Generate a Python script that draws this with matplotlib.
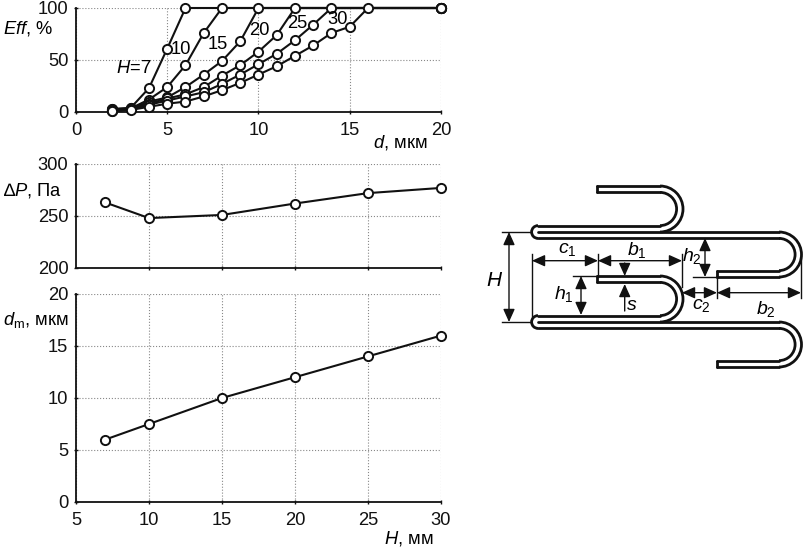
import matplotlib
matplotlib.use('Agg')
import matplotlib.pyplot as plt
from matplotlib.patches import Arc

plt.rcParams['font.family'] = ['Liberation Sans', 'DejaVu Sans']
plt.rcParams['mathtext.fontset'] = 'custom'
plt.rcParams['mathtext.it'] = 'Liberation Sans:italic'
plt.rcParams['mathtext.rm'] = 'Liberation Sans'

# Efficiency curves: Eff (%) against d (um), one series per H
d_7 = [2, 3, 4, 5, 6, 20]
eff_7 = [3, 4, 23, 61, 100, 100]
d_10 = [2, 3, 4, 5, 6, 7, 8, 20]
eff_10 = [2.5, 3.5, 12, 24, 45, 76, 100, 100]
d_15 = [2, 3, 4, 5, 6, 7, 8, 9, 10, 20]
eff_15 = [2, 3, 10, 14, 24, 36, 49, 68, 100, 100]
d_20 = [2, 3, 4, 5, 6, 7, 8, 9, 10, 11, 12, 20]
eff_20 = [1.5, 3, 8, 13, 17, 24, 35, 45, 58, 74, 100, 100]
d_25 = [2, 3, 4, 5, 6, 7, 8, 9, 10, 11, 12, 13, 14, 20]
eff_25 = [1, 2.5, 7, 11, 15, 19, 27, 36, 46, 56, 69, 84, 100, 100]
d_30 = [2, 3, 4, 5, 6, 7, 8, 9, 10, 11, 12, 13, 14, 15, 16, 20]
eff_30 = [0.5, 2, 5, 8, 10, 15, 21, 28, 36, 44, 54, 64, 76, 82, 100, 100]
eff_series = [(d_7, eff_7), (d_10, eff_10), (d_15, eff_15),
              (d_20, eff_20), (d_25, eff_25), (d_30, eff_30)]

H_mm = [7, 10, 15, 20, 25, 30]
dP_pa = [263, 248, 251, 262, 272, 277]
dm_um = [6, 7.5, 10, 12, 14, 16]

W, HT = 804, 550
FS = 13.2
fig = plt.figure(figsize=(W / 100, HT / 100), dpi=100)


def make_axes(top, bottom, left=76, right=441):
    return fig.add_axes([left / W, 1 - bottom / HT, (right - left) / W, (bottom - top) / HT])


def style(ax):
    for s in ('top', 'right'):
        ax.spines[s].set_visible(False)
    for s in ('left', 'bottom'):
        ax.spines[s].set_linewidth(1.3)
        ax.spines[s].set_color('#111111')
    ax.grid(True, ls=':', lw=0.8, color='#888888')
    ax.set_axisbelow(True)
    ax.tick_params(length=3, width=1.0, direction='inout', labelsize=FS, pad=4, colors='#111111')
    ax.tick_params(axis='x', pad=5.5)


def plot_line(ax, x, y):
    ax.plot(x, y, '-o', color='#111111', lw=1.5, ms=6.6, mfc='white', mec='#111111',
            mew=1.4, clip_on=False, zorder=3)


def fig_text(px, py, txt, ha='left', fs=FS):
    fig.text(px / W, 1 - py / HT, txt, fontsize=fs, ha=ha, va='center')


ax1 = make_axes(8, 112)
style(ax1)
for x, y in eff_series:
    plot_line(ax1, x, y)
ax1.set_xlim(0, 20)
ax1.set_ylim(0, 100)
ax1.set_xticks([0, 5, 10, 15, 20])
ax1.set_yticks([0, 50, 100])
curve_labels = [('$\\mathit{H}$=7', 2.2, 42), ('10', 5.2, 60.5), ('15', 7.2, 64.5),
                ('20', 9.5, 78), ('25', 11.55, 85.5), ('30', 13.75, 88.5)]
for txt, x, y in curve_labels:
    ax1.text(x, y, txt, fontsize=FS, ha='left', va='center', zorder=5)

ax2 = make_axes(164, 268)
style(ax2)
plot_line(ax2, H_mm, dP_pa)
ax2.set_xlim(5, 30)
ax2.set_ylim(200, 300)
ax2.set_xticks([10, 15, 20, 25, 30])
ax2.set_yticks([200, 250, 300])
ax2.tick_params(labelbottom=False)

ax3 = make_axes(294, 502)
style(ax3)
plot_line(ax3, H_mm, dm_um)
ax3.set_xlim(5, 30)
ax3.set_ylim(0, 20)
ax3.set_xticks([5, 10, 15, 20, 25, 30])
ax3.set_yticks([0, 5, 10, 15, 20])

fig_text(3, 29, r'$\mathit{Eff}$, %')
fig_text(3, 190, '∆$\\mathit{P}$, Па')
fig_text(3, 320, r'$\mathit{d}_{\mathrm{m}}$, мкм')
fig_text(373, 143, r'$\mathit{d}$, мкм')
fig_text(384, 539, r'$\mathit{H}$, мм')

# Schematic, in figure pixels
sk = fig.add_axes([0, 0, 1, 1], facecolor='none')
sk.set_xlim(0, W)
sk.set_ylim(HT, 0)
sk.axis('off')
INK = '#111111'
TUBE = dict(color=INK, lw=2.0, solid_capstyle='round')
THIN = dict(color=INK, lw=1.0)
GAP = 6.4


def bend(x_c, y_top, y_bot):
    r_out = (y_bot - y_top) / 2
    r_in = r_out - GAP
    yc = (y_top + y_bot) / 2
    sk.add_patch(Arc((x_c, yc), 2 * r_out, 2 * r_out, theta1=-90, theta2=90, color=INK, lw=2.0))
    sk.add_patch(Arc((x_c, yc), 2 * r_in, 2 * r_in, theta1=-90, theta2=90, color=INK, lw=2.0))


def free_end(x_end, x_c, y_outer, y_inner):
    sk.plot([x_end, x_c], [y_outer, y_outer], **TUBE)
    sk.plot([x_end, x_c], [y_inner, y_inner], **TUBE)
    sk.plot([x_end, x_end], [y_outer, y_inner], **TUBE)


def nose(y_mid, x_a, x_b):
    sk.plot([538, x_a], [y_mid - GAP, y_mid - GAP], **TUBE)
    sk.plot([538, x_b], [y_mid, y_mid], **TUBE)
    sk.plot([538, x_b], [y_mid + GAP, y_mid + GAP], **TUBE)
    sk.add_patch(Arc((538, y_mid), 2 * GAP, 2 * GAP, theta1=90, theta2=270, color=INK, lw=2.0))


for dy in (0, 90):
    free_end(597, 660, 186 + dy, 186 + GAP + dy)
    bend(660, 186 + dy, 232 + dy)
    nose(232 + dy, 660, 779)
    bend(779, 232 + dy, 277 + dy)
    free_end(717, 779, 277 + dy, 277 - GAP + dy)

HEAD = dict(color=INK, lw=1.0, mutation_scale=13, shrinkA=0, shrinkB=0)


def dim(x0, y0, x1, y1):
    sk.annotate('', xy=(x1, y1), xytext=(x0, y0),
                arrowprops=dict(arrowstyle='<|-|>,head_length=0.6,head_width=0.27', **HEAD))


def arrow(x0, y0, x1, y1):
    sk.annotate('', xy=(x1, y1), xytext=(x0, y0),
                arrowprops=dict(arrowstyle='-|>,head_length=0.6,head_width=0.27', **HEAD))


for seg in [((502, 530), (232, 232)), ((502, 530), (322, 322)),
            ((532, 532), (254, 316)), ((598, 598), (254, 277)),
            ((682, 682), (254, 287)), ((717, 717), (273, 298)),
            ((801, 801), (258, 298)), ((693, 717), (277, 277)),
            ((573, 598), (276, 276))]:
    sk.plot(seg[0], seg[1], **THIN)

dim(509, 232, 509, 322)
dim(532, 260.7, 598, 260.7)
dim(598, 260.7, 682, 260.7)
dim(705, 238, 705, 277)
dim(682, 292.7, 717, 292.7)
dim(717, 292.7, 801, 292.7)
dim(581, 276, 581, 315)
arrow(624.7, 263, 624.7, 276)
arrow(624.7, 311, 624.7, 284)

sk_labels = [(495, 280, r'$\mathit{H}$', 15), (567, 250, r'$\mathit{c}_{1}$', 14),
             (637, 250, r'$\mathit{b}_{1}$', 14), (692, 256, r'$\mathit{h}_{2}$', 14),
             (564, 294, r'$\mathit{h}_{1}$', 14), (632, 305, r'$\mathit{s}$', 14),
             (701, 305, r'$\mathit{c}_{2}$', 14), (766, 309, r'$\mathit{b}_{2}$', 14)]
for x, y, t, fs in sk_labels:
    sk.text(x, y, t, fontsize=fs, ha='center', va='center')

fig.savefig('out.png', dpi=100)
